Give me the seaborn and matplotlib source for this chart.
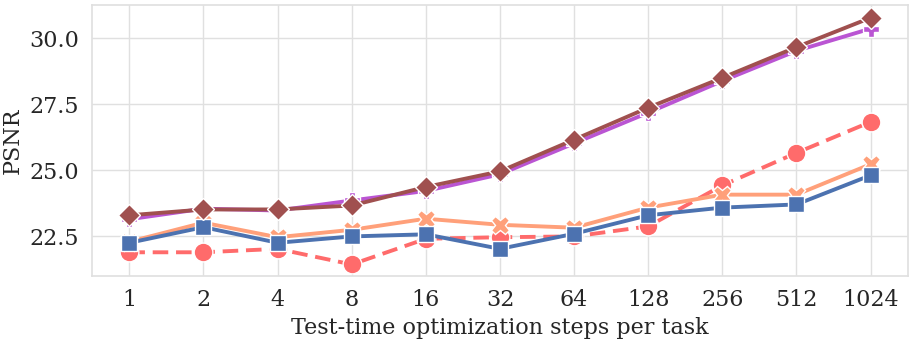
import matplotlib
matplotlib.use("Agg")
import matplotlib.pyplot as plt
import seaborn as sns
import pandas as pd
import numpy as np

steps = ["1", "2", "4", "8", "16", "32", "64", "128", "256", "512", "1024"]

red_circle = [21.90, 21.90, 22.03, 21.44, 22.41, 22.47, 22.50, 22.88, 24.43, 25.66, 26.83]
orange_x = [22.30, 23.02, 22.47, 22.75, 23.17, 22.94, 22.83, 23.59, 24.08, 24.08, 25.23]
blue_square = [22.26, 22.85, 22.26, 22.50, 22.58, 22.03, 22.60, 23.30, 23.59, 23.71, 24.81]
purple_plus = [23.15, 23.55, 23.48, 23.86, 24.22, 24.85, 26.02, 27.18, 28.38, 29.52, 30.36]
brown_diamond = [23.30, 23.52, 23.52, 23.67, 24.37, 24.96, 26.16, 27.37, 28.50, 29.66, 30.77]

sns.set_theme(style="whitegrid", rc={"grid.color": "#e0e0e0", "axes.edgecolor": "#e0e0e0"})
plt.rcParams["font.family"] = ["DejaVu Serif"]

fig, ax = plt.subplots(figsize=(9.14, 3.4), dpi=100)
fig.subplots_adjust(left=0.101, right=0.993, top=0.985, bottom=0.188)

x = np.arange(len(steps))
series = [
    (red_circle, "#FF6B6B", "o", (4, 2), 13.5),
    (orange_x, "#FFA07A", "X", None, 13),
    (blue_square, "#4C72B0", "s", None, 11),
    (purple_plus, "#BA55D3", "P", None, 12),
    (brown_diamond, "#A0504F", "D", None, 11),
]
for vals, col, mk, dash, ms in series:
    df = pd.DataFrame({"x": x, "y": vals})
    sns.lineplot(data=df, x="x", y="y", ax=ax, color=col, marker=mk,
                 markersize=ms, markeredgecolor="white", markeredgewidth=1,
                 linewidth=2.8)
    if dash is not None:
        ax.lines[-1].set_dashes(dash)

ax.set_xticks(x)
ax.set_xticklabels(steps)
ax.set_xlim(-0.5, len(steps) - 0.5)
ax.set_ylim(21.0, 31.25)
ax.set_yticks([22.5, 25.0, 27.5, 30.0])
ax.tick_params(labelsize=16, colors="#262626")
ax.set_xlabel("Test-time optimization steps per task", fontsize=16)
ax.set_ylabel("PSNR", fontsize=16)

fig.savefig("out.png", dpi=100)
